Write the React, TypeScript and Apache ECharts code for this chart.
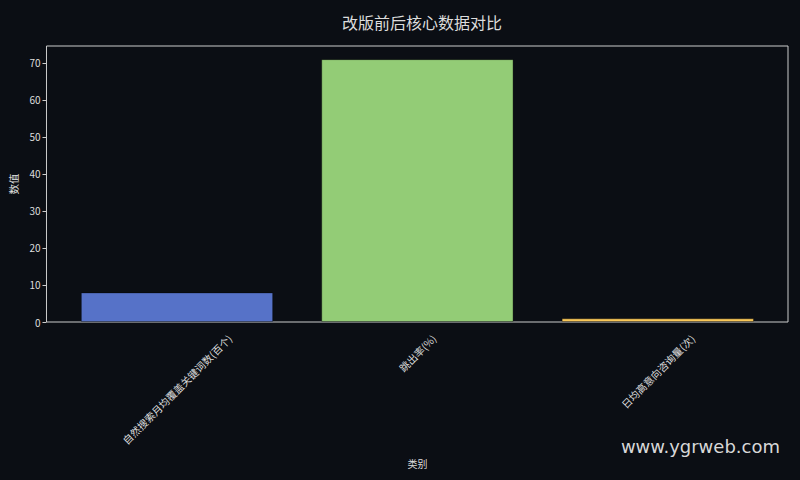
import { useEffect, useRef } from "react";
import * as echarts from "echarts";

const categories = ["自然搜索月均覆盖关键词数(百个)", "跳出率(%)", "日均高意向咨询量(次)"];
const values = [8, 71, 1];
const barColors = ["#5672c8", "#93cc76", "#f9c858"];
const yTicks = [0, 10, 20, 30, 40, 50, 60, 70];

const BG = "#0b0e14";
const FG = "#dddddd";
const FONT = "Noto Sans CJK SC, DejaVu Sans, sans-serif";
const X_LABEL_SIZE = 10.2;

function measure(text: string, size: number) {
  const ctx = document.createElement("canvas").getContext("2d");
  if (!ctx) return text.length * size;
  ctx.font = `${size}px "Noto Sans CJK SC", "DejaVu Sans", sans-serif`;
  return ctx.measureText(text).width;
}

export default function App() {
  const ref = useRef<HTMLDivElement>(null);

  useEffect(() => {
    if (!ref.current) return;
    const chart = echarts.init(ref.current, null, { renderer: "svg" });
    const yMax = Math.max(...values) * 1.05;
    const watermark = {
      id: "wm",
      type: "text",
      right: 20,
      top: 437,
      style: {
        text: "www.ygrweb.com",
        fill: "#d8d8d8",
        fontSize: 18,
        fontFamily: "DejaVu Sans, sans-serif",
      },
    };
    chart.setOption({
      animation: false,
      backgroundColor: BG,
      textStyle: { fontFamily: FONT },
      title: {
        text: "改版前后核心数据对比",
        left: 417,
        textAlign: "center",
        top: 9,
        textStyle: { color: FG, fontSize: 16, fontWeight: "normal" },
      },
      graphic: [watermark],
      grid: [
        // frame (spines) + y axis
        {
          left: 46,
          right: 12,
          top: 46,
          bottom: 158,
          show: true,
          borderColor: "#cccccc",
          borderWidth: 1,
          backgroundColor: "transparent",
        },
        // data area
        {
          left: 56.8,
          right: 22,
          top: 46,
          bottom: 158,
        },
      ],
      xAxis: [
        { gridIndex: 0, type: "value", show: false, min: 0, max: 1 },
        {
          gridIndex: 1,
          type: "category",
          data: categories,
          name: "类别",
          nameLocation: "middle",
          nameGap: 136,
          nameTextStyle: { color: FG, fontSize: 10 },
          axisLine: { show: false },
          axisTick: {
            alignWithLabel: true,
            length: 4,
            lineStyle: { color: "#cccccc" },
          },
          axisLabel: { show: false },
        },
      ],
      yAxis: [
        {
          gridIndex: 0,
          type: "value",
          min: 0,
          max: yMax,
          name: "数值",
          nameLocation: "middle",
          nameGap: 25,
          nameTextStyle: { color: FG, fontSize: 10.5 },
          splitLine: { show: false },
          axisLine: { show: false },
          axisTick: {
            show: true,
            length: 4,
            customValues: yTicks,
            lineStyle: { color: "#cccccc" },
          },
          axisLabel: {
            color: FG,
            fontSize: 10,
            margin: 6,
            customValues: yTicks,
          },
        },
        { gridIndex: 1, type: "value", show: false, min: 0, max: yMax },
      ],
      series: [
        {
          type: "bar",
          xAxisIndex: 1,
          yAxisIndex: 1,
          barWidth: "80%",
          data: values.map((v, i) => ({
            value: v,
            itemStyle: {
              color: barColors[i],
              borderColor: "rgba(0,0,0,0.35)",
              borderWidth: 1,
            },
          })),
        },
      ],
    });

    // rotated category labels, bounding box centred under each tick
    const axisY = chart.convertToPixel({ yAxisIndex: 1 }, 0) as number;
    const labels = categories.map((c, i) => {
      const px = chart.convertToPixel({ xAxisIndex: 1 }, i) as number;
      const w = measure(c, X_LABEL_SIZE);
      const half = ((w + X_LABEL_SIZE * 1.2) * Math.SQRT1_2) / 2;
      return {
        id: "xl" + i,
        type: "text",
        x: px,
        y: axisY + 10 + half,
        rotation: Math.PI / 4,
        style: {
          text: c,
          fill: FG,
          fontSize: X_LABEL_SIZE,
          fontFamily: FONT,
          align: "center",
          verticalAlign: "middle",
        },
      };
    });
    chart.setOption({ graphic: [watermark, ...labels] });

    return () => {
      chart.dispose();
    };
  }, []);

  return (
    <div
      ref={ref}
      style={{ position: "fixed", left: 0, top: 0, width: 800, height: 480 }}
    />
  );
}
